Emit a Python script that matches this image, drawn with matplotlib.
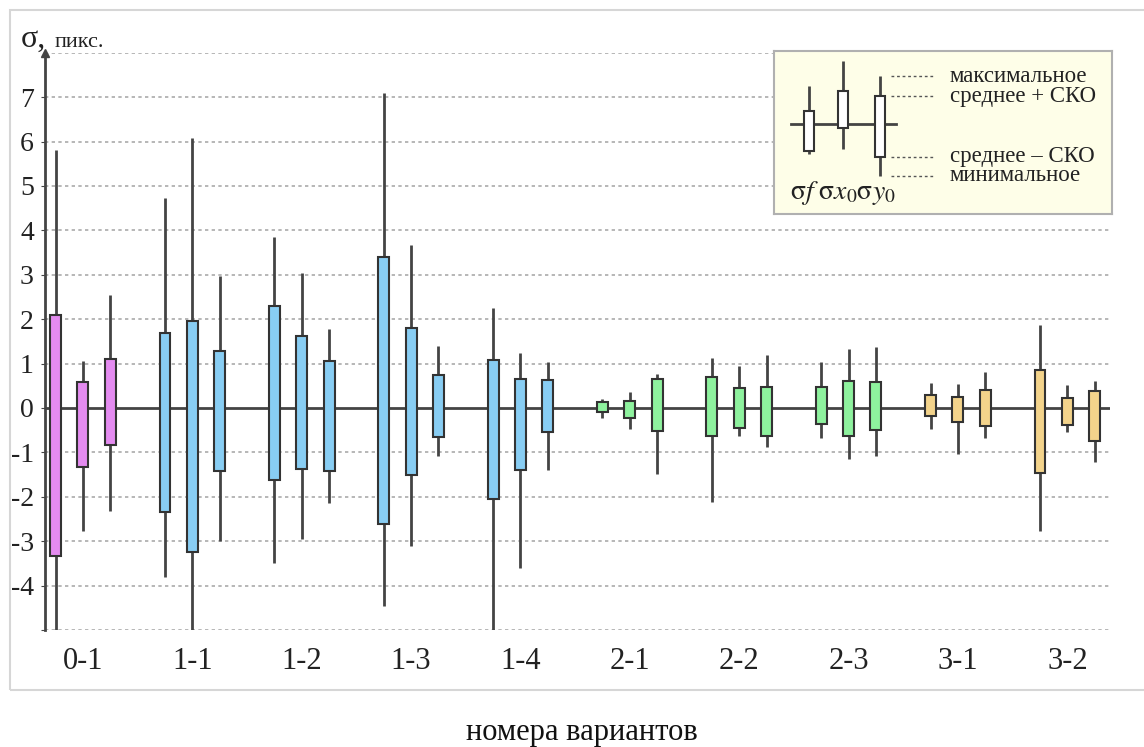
import matplotlib
matplotlib.use('Agg')
import matplotlib.pyplot as plt
from matplotlib.patches import Rectangle

plt.rcParams['font.family'] = ['Liberation Serif', 'DejaVu Serif']
plt.rcParams['mathtext.fontset'] = 'stix'

# варианты и значения (σf, σx0, σy0 для каждого варианта)
variants = ['0-1', '1-1', '1-2', '1-3', '1-4', '2-1', '2-2', '2-3', '3-1', '3-2']
colors = ['#e48bf0', '#88cdf3', '#88cdf3', '#88cdf3', '#88cdf3',
          '#8ef29e', '#8ef29e', '#8ef29e', '#f3d38b', '#f3d38b']

v_max = [[5.81, 1.05, 2.54], [4.72, 6.07, 2.97], [3.86, 3.03, 1.77],
         [7.09, 3.67, 1.39], [2.24, 1.24, 1.03], [0.20, 0.35, 0.77],
         [1.13, 0.95, 1.19], [1.03, 1.32, 1.37], [0.56, 0.55, 0.80],
         [1.86, 0.51, 0.60]]
v_hi = [[2.10, 0.59, 1.11], [1.68, 1.96, 1.28], [2.29, 1.62, 1.05],
        [3.40, 1.79, 0.74], [1.07, 0.66, 0.64], [0.13, 0.16, 0.65],
        [0.70, 0.44, 0.47], [0.47, 0.60, 0.59], [0.29, 0.25, 0.41],
        [0.85, 0.23, 0.39]]
v_lo = [[-3.33, -1.32, -0.83], [-2.35, -3.24, -1.41], [-1.62, -1.38, -1.41],
        [-2.61, -1.51, -0.66], [-2.05, -1.39, -0.54], [-0.10, -0.23, -0.51],
        [-0.64, -0.44, -0.64], [-0.36, -0.64, -0.49], [-0.19, -0.32, -0.41],
        [-1.47, -0.39, -0.75]]
v_min = [[-5.0, -2.77, -2.33], [-3.80, -5.0, -2.99], [-3.50, -2.95, -2.14],
         [-4.46, -3.11, -1.09], [-5.0, -3.61, -1.39], [-0.23, -0.47, -1.49],
         [-2.11, -0.64, -0.89], [-0.68, -1.14, -1.08], [-0.47, -1.03, -0.68],
         [-2.77, -0.55, -1.21]]
offsets = [-0.25, 0.0, 0.25]

# условные обозначения
key_max = [0.86, 1.42, 1.08]
key_hi = [0.29, 0.74, 0.63]
key_lo = [-0.61, -0.09, -0.74]
key_min = [-0.68, -0.56, -1.17]
key_text = ['максимальное', 'среднее + СКО', 'среднее – СКО', 'минимальное']

W, H = 1144, 747
fig = plt.figure(figsize=(W / 100, H / 100), dpi=100)
ax = fig.add_axes([45 / W, 1 - 630 / H, (1110 - 45) / W, (630 - 52.7) / H])

ax.set_xlim(-0.347, 9.39)
ax.set_ylim(-5, 8)

for y in range(-5, 9):
    if y != 0:
        ax.axhline(y, color='#aaaaaa', lw=1.2, ls=(0, (2, 2)), zorder=1)
ax.axhline(0, color='#444444', lw=2, zorder=2)

for i in range(len(variants)):
    for j in range(3):
        x = i + offsets[j]
        ax.vlines(x, v_min[i][j], v_max[i][j], color='#444444', lw=2, zorder=2)
        ax.bar(x, v_hi[i][j] - v_lo[i][j], bottom=v_lo[i][j], width=0.1,
               color=colors[i], edgecolor='#333333', lw=1.5, zorder=3)

for s in ['top', 'right', 'bottom']:
    ax.spines[s].set_visible(False)
ax.spines['left'].set_color('#444444')
ax.spines['left'].set_linewidth(2)
ax.plot(0, 1, marker='^', color='#444444', markersize=6,
        transform=ax.transAxes, clip_on=False)

ax.set_yticks(range(-5, 8))
ax.set_yticklabels([''] + [str(v) for v in range(-4, 8)])
ax.tick_params(axis='y', labelsize=20, length=3, color='#444444', pad=5,
               labelcolor='#222222')
ax.set_xticks(range(len(variants)))
ax.set_xticklabels(variants)
ax.tick_params(axis='x', labelsize=22, length=0, pad=12, labelcolor='#222222')

fig.text(21 / W, 1 - 47 / H, 'σ,', fontsize=23, va='baseline', color='#222222')
fig.text(55 / W, 1 - 47 / H, 'пикс.', fontsize=16, va='baseline', color='#222222')
fig.text(582 / W, 1 - 740 / H, 'номера вариантов', fontsize=22, ha='center',
         va='baseline', color='#111111')

fig.patches.append(Rectangle((10 / W, 1 - 690 / H), 1140 / W, 680 / H,
                             transform=fig.transFigure, fill=False,
                             edgecolor='#d6d6d6', lw=1.5))

# легенда
lg = fig.add_axes([774 / W, 1 - 214 / H, (1112 - 774) / W, (214 - 50.7) / H])
lg.set_xlim(0, 338)
lg.set_ylim(-2.03, 1.655)
lg.set_xticks([])
lg.set_yticks([])
lg.set_facecolor('#fefee8')
for s in lg.spines.values():
    s.set_color('#b0b0b0')
    s.set_linewidth(1.5)
key_x = [35, 69, 106]
lg.plot([17, 122], [0, 0], color='#444444', lw=2, zorder=2)
for k in range(3):
    lg.vlines(key_x[k], key_min[k], key_max[k], color='#444444', lw=2, zorder=2)
    lg.bar(key_x[k], key_hi[k] - key_lo[k], bottom=key_lo[k], width=10,
           color='white', edgecolor='#333333', lw=1.5, zorder=3)
key_levels = [key_max[2], key_hi[2], key_lo[2], key_min[2]]
for lvl, txt in zip(key_levels, key_text):
    lg.plot([117, 161], [lvl, lvl], color='#555555', lw=1, ls=(0, (2, 2)))
    lg.text(176, lvl, txt, fontsize=16.5, va='center', color='#222222')
lg.text(16, -1.56, r'$\mathrm{σ}f\;\mathrm{σ}x_0\mathrm{σ}y_0$', fontsize=20,
        va='center', color='#222222')

fig.savefig('out.png', dpi=100)
